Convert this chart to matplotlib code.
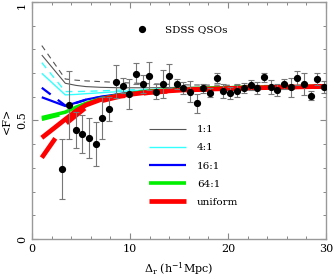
import numpy as np
import matplotlib
matplotlib.use("Agg")
import matplotlib.pyplot as plt
from matplotlib.lines import Line2D

plt.rcParams['font.family'] = ['DejaVu Serif']
plt.rcParams['mathtext.fontset'] = 'dejavuserif'

# Observed data (SDSS QSOs)
obs_x = [3.06, 3.78, 4.46, 5.14, 5.82, 6.50, 7.18, 7.86, 8.57, 9.25,
         9.93, 10.60, 11.29, 11.97, 12.65, 13.33, 14.01, 14.76, 15.44, 16.12,
         16.80, 17.48, 18.16, 18.84, 19.52, 20.20, 20.95, 21.63, 22.30, 22.99,
         23.67, 24.35, 25.03, 25.70, 26.40, 27.07, 27.76, 28.44, 29.10, 29.80]
obs_y = [0.295, 0.565, 0.460, 0.442, 0.426, 0.400, 0.510, 0.547, 0.664, 0.646,
         0.612, 0.698, 0.655, 0.688, 0.622, 0.653, 0.688, 0.653, 0.638, 0.622,
         0.572, 0.636, 0.617, 0.680, 0.624, 0.617, 0.626, 0.638, 0.650, 0.638,
         0.682, 0.641, 0.629, 0.653, 0.640, 0.679, 0.654, 0.605, 0.674, 0.641]
obs_err = [0.125, 0.145, 0.075, 0.080, 0.085, 0.093, 0.090, 0.050, 0.070, 0.032,
           0.065, 0.045, 0.038, 0.058, 0.033, 0.060, 0.050, 0.022, 0.025, 0.045,
           0.040, 0.020, 0.020, 0.020, 0.030, 0.025, 0.027, 0.020, 0.020, 0.025,
           0.020, 0.030, 0.025, 0.020, 0.040, 0.030, 0.045, 0.020, 0.025, 0.025]

# Model curves
model_x = [1.0, 3.4, 4.5, 5.5, 7.0, 9.0, 12.0, 16.0, 22.0, 30.0]
m11_solid = [0.776, 0.657, 0.648, 0.643, 0.640, 0.638, 0.638, 0.640, 0.642, 0.645]
m11_dash = [0.816, 0.675, 0.670, 0.667, 0.664, 0.660, 0.655, 0.650, 0.648, 0.647]
m41_solid = [0.699, 0.608, 0.610, 0.613, 0.617, 0.622, 0.630, 0.636, 0.640, 0.644]
m41_dash = [0.744, 0.622, 0.622, 0.623, 0.625, 0.628, 0.632, 0.637, 0.641, 0.645]
m161_solid = [0.598, 0.561, 0.575, 0.588, 0.600, 0.612, 0.625, 0.634, 0.640, 0.644]
m161_dash = [0.638, 0.563, 0.574, 0.587, 0.599, 0.611, 0.624, 0.633, 0.640, 0.644]
m641_solid = [0.512, 0.535, 0.556, 0.572, 0.592, 0.608, 0.624, 0.634, 0.640, 0.644]
m641_dash = [0.505, 0.530, 0.552, 0.569, 0.590, 0.607, 0.623, 0.633, 0.640, 0.644]
uni_solid = [0.427, 0.505, 0.540, 0.565, 0.588, 0.605, 0.620, 0.630, 0.637, 0.644]
uni_dash = [0.343, 0.485, 0.522, 0.555, 0.582, 0.602, 0.618, 0.629, 0.637, 0.644]

labels = ['1:1', '4:1', '16:1', '64:1', 'uniform']
colors = ['#555555', '#33ffff', '#0000ff', '#00ee00', '#ff0000']
widths = [0.8, 1.0, 1.6, 2.6, 3.4]
solids = [m11_solid, m41_solid, m161_solid, m641_solid, uni_solid]
dashes = [m11_dash, m41_dash, m161_dash, m641_dash, uni_dash]

fig = plt.figure(figsize=(3.34, 2.80), dpi=100)
ax = fig.add_axes([0.0958, 0.1464, 0.8802, 0.8466])

handles = []
for lab, c, w, s, d in zip(labels, colors, widths, solids, dashes):
    h, = ax.plot(model_x, s, color=c, lw=w, solid_capstyle='butt', zorder=2, label=lab)
    ax.plot(model_x, d, color=c, lw=w, ls=(0, (5, 4)), dash_capstyle='butt', zorder=2)
    handles.append(h)

ax.errorbar(obs_x, obs_y, yerr=obs_err, fmt='o', color='black', ms=4.2,
            ecolor='#777777', elinewidth=0.8, capsize=2.2, capthick=0.8, zorder=3)

ax.set_xlim(0, 30)
ax.set_ylim(0, 1)
ax.set_xticks([0, 10, 20, 30])
ax.set_xticks(np.arange(0, 31, 2), minor=True)
ax.set_yticks([0, 0.5, 1])
ax.set_yticklabels(['0', '0.5', '1'], rotation=90, va='center')
ax.set_yticks(np.arange(0, 1.01, 0.1), minor=True)
ax.tick_params(which='both', direction='in', top=True, right=True, color='#888888',
               labelsize=8)
ax.tick_params(which='major', length=4.5, width=0.8)
ax.tick_params(which='minor', length=2.5, width=0.7)
for sp in ax.spines.values():
    sp.set_color('#999999')
    sp.set_linewidth(1.0)
# keep the top "1" label inside the figure
ax.get_yticklabels()[-1].set_va('top')

ax.set_xlabel(r'$\Delta_{\rm r}$ (h$^{-1}$Mpc)', fontsize=8, labelpad=5)
ax.set_ylabel('<F>', fontsize=8, labelpad=4)

qso_handle = Line2D([], [], marker='o', color='black', ls='none', ms=4.2)
leg1 = ax.legend([qso_handle], ['SDSS QSOs'], loc='upper left',
                 bbox_to_anchor=(0.33, 0.925), frameon=False, fontsize=7.5,
                 handletextpad=1.5, borderpad=0, handlelength=1.5)
ax.add_artist(leg1)
ax.legend(handles=handles, loc='upper left', bbox_to_anchor=(0.38, 0.503),
          frameon=False, fontsize=7.5, handlelength=3.6, handletextpad=1.0,
          labelspacing=0.85, borderpad=0)

fig.savefig('out.png', dpi=100)
